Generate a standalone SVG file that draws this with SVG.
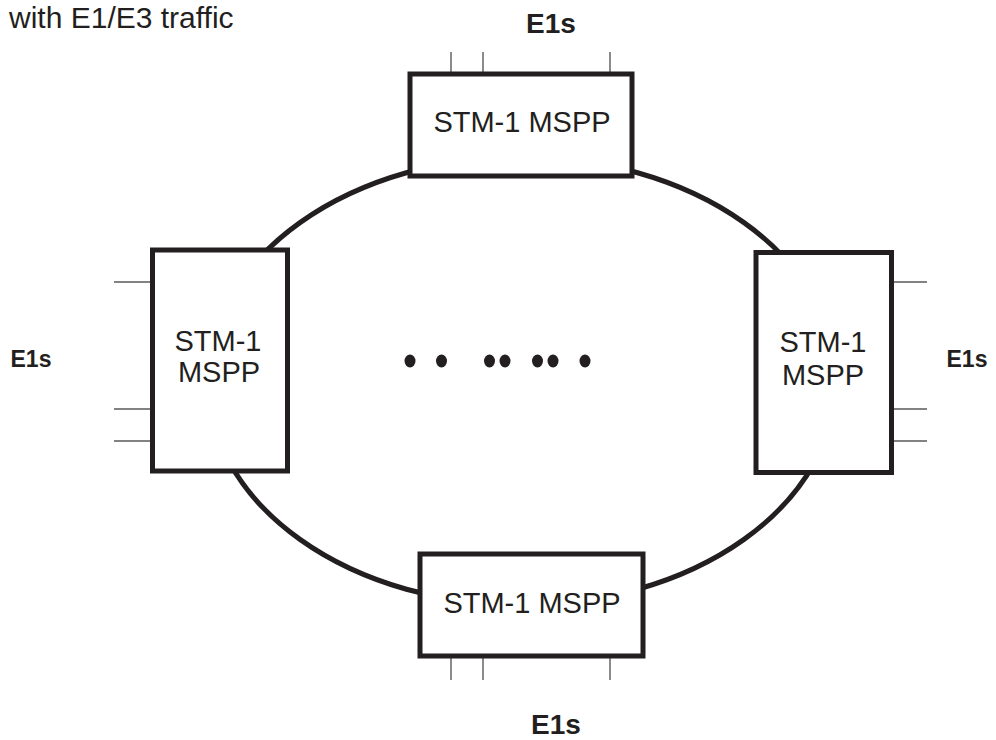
<svg xmlns="http://www.w3.org/2000/svg" width="996" height="740" viewBox="0 0 996 740">
<style>
  .box { fill: #ffffff; stroke: #231f20; stroke-width: 5; }
  .ring { fill: none; stroke: #231f20; stroke-width: 5; }
  .tick { stroke: #58595b; stroke-width: 1.4; }
  .lbl { font-family: "Liberation Sans", Arial, sans-serif; font-size: 29px; fill: #231f20; text-anchor: middle; }
  .e1 { font-family: "Liberation Sans", Arial, sans-serif; font-weight: bold; fill: #231f20; text-anchor: middle; }
  .dot { fill: #231f20; }
</style>
<rect width="996" height="740" fill="#ffffff"/>
<text x="9" y="28" font-family="Liberation Sans, Arial, sans-serif" font-size="30" fill="#231f20">with E1/E3 traffic</text>

<g id="connectors">
  <ellipse class="ring" cx="522" cy="381" rx="314" ry="224"/>
</g>

<g id="node-top">
  <line class="tick" x1="451" y1="52" x2="451" y2="72"/>
  <line class="tick" x1="483" y1="52" x2="483" y2="72"/>
  <line class="tick" x1="610" y1="52" x2="610" y2="72"/>
  <rect class="box" x="410" y="74" width="222" height="102"/>
  <text class="lbl" x="522" y="132">STM-1 MSPP</text>
  <text class="e1" x="551" y="33" font-size="28">E1s</text>
</g>

<g id="node-left">
  <line class="tick" x1="114" y1="282" x2="150" y2="282"/>
  <line class="tick" x1="114" y1="409" x2="150" y2="409"/>
  <line class="tick" x1="114" y1="441" x2="150" y2="441"/>
  <rect class="box" x="152.5" y="250" width="135" height="221"/>
  <text class="lbl" x="218" y="351">STM-1</text>
  <text class="lbl" x="219" y="382">MSPP</text>
  <text class="e1" x="31" y="367" font-size="23">E1s</text>
</g>

<g id="node-right">
  <line class="tick" x1="894" y1="282" x2="927" y2="282"/>
  <line class="tick" x1="894" y1="409" x2="927" y2="409"/>
  <line class="tick" x1="894" y1="441" x2="927" y2="441"/>
  <rect class="box" x="756" y="252.5" width="135.5" height="220"/>
  <text class="lbl" x="823" y="352">STM-1</text>
  <text class="lbl" x="823" y="385">MSPP</text>
  <text class="e1" x="967" y="367" font-size="23">E1s</text>
</g>

<g id="node-bottom">
  <line class="tick" x1="451" y1="658" x2="451" y2="680"/>
  <line class="tick" x1="483" y1="658" x2="483" y2="680"/>
  <line class="tick" x1="610" y1="658" x2="610" y2="680"/>
  <rect class="box" x="420" y="554" width="223" height="102"/>
  <text class="lbl" x="532" y="613">STM-1 MSPP</text>
  <text class="e1" x="556" y="734" font-size="28">E1s</text>
</g>

<g id="dots">
  <ellipse class="dot" cx="410" cy="361" rx="5.5" ry="6.5"/>
  <ellipse class="dot" cx="441.5" cy="361" rx="5.5" ry="6.5"/>
  <ellipse class="dot" cx="489.5" cy="361" rx="5.5" ry="6.5"/>
  <ellipse class="dot" cx="505" cy="361" rx="5.5" ry="6.5"/>
  <ellipse class="dot" cx="537.5" cy="361" rx="5.5" ry="6.5"/>
  <ellipse class="dot" cx="553" cy="361" rx="5.5" ry="6.5"/>
  <ellipse class="dot" cx="585" cy="361" rx="5.5" ry="6.5"/>
</g>
</svg>
